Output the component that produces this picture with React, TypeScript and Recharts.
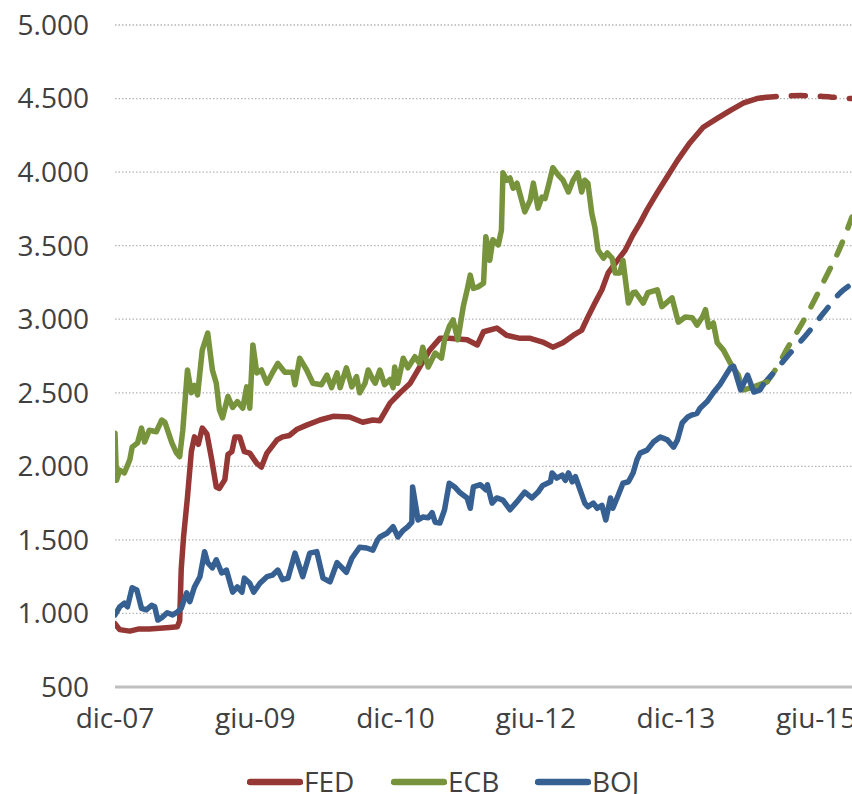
import { LineChart, Line, XAxis, YAxis, CartesianGrid } from "recharts";

// months counted from dic-07
const X_TICKS = [0, 18, 36, 54, 72, 90];
const X_LABELS = ["dic-07", "giu-09", "dic-10", "giu-12", "dic-13", "giu-15"];
const Y_TICKS = [500, 1000, 1500, 2000, 2500, 3000, 3500, 4000, 4500, 5000];

const FED: [number, number][] = [
  [0, 930], [0.6, 890], [1.9, 880], [3.1, 895], [4.4, 895], [5.7, 900], [7.0, 905],
  [8.0, 910], [8.3, 950], [8.5, 1300], [8.8, 1520], [9.3, 1790], [9.8, 2100],
  [10.2, 2200], [10.7, 2150], [11.2, 2260], [11.8, 2220], [12.4, 2050], [13.0, 1860],
  [13.4, 1850], [14.1, 1910], [14.5, 2080], [15.0, 2100], [15.4, 2200], [16.0, 2200],
  [16.6, 2100], [17.3, 2090], [18.2, 2020], [18.8, 1995], [19.5, 2090], [20.8, 2180],
  [21.5, 2200], [22.4, 2210], [23.3, 2250], [24.6, 2280], [26.3, 2315], [28.0, 2340],
  [30.1, 2335], [31.8, 2300], [33.1, 2315], [34.0, 2310], [35.3, 2430], [36.6, 2500],
  [37.9, 2565], [39.1, 2675], [40.4, 2790], [41.7, 2870], [42.9, 2870], [45.2, 2860],
  [46.5, 2825], [47.3, 2915], [49.0, 2940], [50.3, 2890], [52.0, 2870], [53.3, 2870],
  [54.9, 2845], [56.2, 2810], [57.5, 2840], [58.8, 2890], [59.9, 2925], [60.7, 3015],
  [61.6, 3110], [62.5, 3200], [63.3, 3315], [64.5, 3400], [65.5, 3470], [66.5, 3575],
  [67.4, 3655], [68.3, 3745], [69.6, 3860], [70.9, 3970], [72.2, 4080], [73.8, 4200],
  [75.5, 4305], [77.3, 4365], [79.0, 4420], [80.7, 4470], [82.4, 4500], [83.1, 4505],
];
const FED_PROJ: [number, number][] = [
  [83.1, 4505], [85.4, 4515], [88.0, 4520], [90.6, 4515], [93.1, 4505], [94.6, 4500],
];

const ECB: [number, number][] = [
  [0, 2225], [0.2, 1905], [0.6, 1975], [1.2, 1955], [1.9, 2045], [2.2, 2130], [2.9, 2160],
  [3.4, 2260], [3.8, 2165], [4.4, 2245], [5.3, 2235], [6.0, 2315], [6.4, 2300], [7.3, 2160],
  [7.9, 2090], [8.3, 2065], [8.7, 2245], [9.3, 2655], [9.8, 2500], [10.2, 2550], [10.6, 2485],
  [11.2, 2790], [11.9, 2905], [12.5, 2655], [13.0, 2565], [13.4, 2385], [13.8, 2330],
  [14.5, 2475], [15.1, 2400], [15.7, 2440], [16.4, 2395], [16.9, 2540], [17.3, 2395],
  [17.7, 2825], [18.2, 2635], [18.8, 2655], [19.5, 2565], [20.2, 2635], [20.9, 2700],
  [21.8, 2640], [22.8, 2640], [23.1, 2555], [23.7, 2735], [24.6, 2655], [25.4, 2565],
  [26.5, 2555], [27.2, 2620], [27.8, 2535], [28.5, 2635], [28.9, 2535], [29.7, 2670],
  [30.4, 2540], [31.0, 2610], [31.4, 2500], [32.1, 2565], [32.5, 2655], [33.1, 2590],
  [33.4, 2565], [34.0, 2655], [34.6, 2555], [35.3, 2590], [35.7, 2535], [35.9, 2675],
  [36.3, 2565], [37.0, 2735], [37.6, 2670], [38.5, 2745], [39.1, 2700], [39.5, 2810],
  [40.2, 2675], [41.1, 2770], [41.9, 2735], [42.3, 2860], [42.9, 2950], [43.4, 2995],
  [44.0, 2860], [44.7, 3085], [45.2, 3200], [45.6, 3300], [46.0, 3210], [46.6, 3220],
  [47.3, 3245], [47.6, 3560], [47.9, 3490], [48.1, 3400], [48.5, 3540], [49.2, 3505],
  [49.6, 3605], [49.8, 3995], [50.3, 3945], [50.7, 3960], [51.1, 3890], [51.6, 3925],
  [52.6, 3730], [53.3, 3810], [53.7, 3925], [54.3, 3755], [54.8, 3830], [55.2, 3820],
  [55.6, 3900], [56.2, 4030], [56.9, 3980], [57.5, 3945], [58.2, 3865], [58.8, 3945],
  [59.4, 3995], [59.9, 3865], [60.3, 3945], [60.7, 3925], [61.2, 3720], [61.6, 3625],
  [62.0, 3470], [62.7, 3415], [63.2, 3450], [63.8, 3415], [64.2, 3315], [64.8, 3315],
  [65.2, 3400], [65.9, 3110], [66.5, 3180], [66.8, 3185], [67.8, 3110], [68.4, 3180],
  [69.6, 3200], [70.2, 3085], [71.5, 3145], [72.3, 2980], [73.2, 3015], [74.1, 3010],
  [74.7, 2960], [75.4, 3015], [75.8, 3065], [76.2, 2945], [76.8, 2975], [77.3, 2840],
  [78.1, 2790], [79.0, 2700], [80.0, 2620], [80.3, 2565], [80.7, 2520], [82.0, 2540],
  [83.7, 2575],
];
const ECB_PROJ: [number, number][] = [
  [83.7, 2575], [84.5, 2635], [86.5, 2820], [88.9, 3040], [91.0, 3260], [93.1, 3490], [94.6, 3695],
];

const BOJ: [number, number][] = [
  [0, 990], [0.6, 1045], [1.2, 1070], [1.6, 1045], [2.2, 1175], [2.8, 1160], [3.4, 1035],
  [4.0, 1025], [4.7, 1055], [5.1, 1045], [5.5, 955], [6.1, 975], [6.7, 1005], [7.4, 990],
  [8.0, 1010], [8.5, 1035], [9.2, 1140], [9.6, 1080], [10.2, 1180], [10.9, 1250],
  [11.5, 1420], [11.9, 1345], [12.5, 1310], [13.0, 1365], [13.7, 1275], [14.3, 1295],
  [15.1, 1145], [15.7, 1180], [16.3, 1145], [16.6, 1240], [17.3, 1205], [17.8, 1145],
  [18.6, 1205], [19.5, 1250], [20.2, 1260], [20.9, 1295], [21.5, 1230], [22.2, 1240],
  [23.1, 1410], [24.1, 1250], [25.0, 1410], [25.9, 1420], [26.7, 1240], [27.6, 1215],
  [28.5, 1345], [29.7, 1280], [30.4, 1375], [31.4, 1450], [32.3, 1445], [33.1, 1430],
  [33.7, 1500], [34.0, 1520], [34.9, 1545], [35.7, 1590], [36.3, 1520], [37.0, 1565],
  [37.6, 1590], [38.1, 1620], [38.2, 1860], [38.9, 1635], [39.5, 1655], [40.2, 1650],
  [40.7, 1685], [41.1, 1620], [41.7, 1615], [42.3, 1705], [42.9, 1885], [43.6, 1860],
  [44.3, 1820], [45.2, 1785], [45.6, 1715], [46.0, 1860], [46.9, 1875], [47.6, 1840],
  [47.8, 1875], [48.4, 1750], [49.0, 1785], [49.8, 1770], [50.7, 1705], [51.6, 1760],
  [52.6, 1825], [53.5, 1785], [54.3, 1825], [54.9, 1870], [55.9, 1895], [56.1, 1955],
  [56.7, 1920], [57.4, 1940], [57.8, 1905], [58.2, 1955], [58.7, 1895], [59.1, 1930],
  [59.7, 1840], [60.3, 1750], [60.7, 1725], [61.4, 1750], [61.9, 1715], [62.5, 1735],
  [63.0, 1635], [63.6, 1785], [63.9, 1715], [64.6, 1805], [65.2, 1885], [65.9, 1895],
  [66.5, 1955], [67.0, 2045], [67.4, 2090], [68.3, 2110], [69.1, 2165], [70.0, 2200],
  [70.9, 2180], [71.7, 2130], [72.2, 2180], [72.8, 2295], [73.5, 2335], [74.1, 2350],
  [74.7, 2360], [75.1, 2395], [76.0, 2440], [76.8, 2500], [77.7, 2560], [78.4, 2620],
  [79.0, 2670], [79.4, 2680], [80.3, 2520], [81.2, 2620], [82.0, 2505], [82.8, 2520],
  [83.2, 2555],
];
const BOJ_PROJ: [number, number][] = [
  [83.2, 2555], [84.5, 2635], [86.5, 2760], [88.9, 2905], [91.0, 3045], [93.1, 3180], [94.6, 3240],
];

const COLORS = { FED: "#953735", ECB: "#77933C", BOJ: "#376092" };
const FONT = "'Open Sans', sans-serif";
const TEXT = "#404040";

const toRows = (pts: [number, number][]) => pts.map(([t, v]) => ({ t, v }));
const fmt = (v: number) => String(v).replace(/\B(?=(\d{3})+(?!\d))/g, ".");

const series = [
  { name: "FED", data: FED, proj: FED_PROJ },
  { name: "ECB", data: ECB, proj: ECB_PROJ },
  { name: "BOJ", data: BOJ, proj: BOJ_PROJ },
] as const;

function LegendRow() {
  return (
    <div
      style={{
        position: "absolute",
        left: 247,
        top: 765,
        display: "flex",
        fontFamily: FONT,
        fontSize: 28,
        lineHeight: "32px",
        color: TEXT,
      }}
    >
      {series.map((s) => (
        <div key={s.name} style={{ width: 144, display: "flex", alignItems: "flex-start" }}>
          <svg width={56} height={32}>
            <line x1={3} x2={53} y1={17} y2={17} stroke={COLORS[s.name]} strokeWidth={6.5} strokeLinecap="round" />
          </svg>
          <span style={{ marginLeft: 1 }}>{s.name}</span>
        </div>
      ))}
    </div>
  );
}

export default function App() {
  return (
    <div style={{ position: "absolute", left: 0, top: 0, width: 852, height: 794, overflow: "hidden", background: "#fff" }}>
      <LineChart width={852} height={794} margin={{ top: 25, right: 0, left: 15, bottom: 47 }}>
        <CartesianGrid
          vertical={false}
          horizontalValues={Y_TICKS.slice(1)}
          stroke="#b4b4b4"
          strokeWidth={1.3}
          strokeDasharray="1.5 2"
        />
        <XAxis
          dataKey="t"
          type="number"
          domain={[0, 94.6]}
          allowDataOverflow
          ticks={X_TICKS}
          tickFormatter={(v: number) => X_LABELS[X_TICKS.indexOf(v)] ?? ""}
          axisLine={{ stroke: "#bfbfbf", strokeWidth: 3 }}
          tickLine={false}
          tickSize={0}
          tickMargin={21}
          height={60}
          interval={0}
          tick={{ fill: TEXT, fontSize: 28, fontFamily: FONT }}
        />
        <YAxis
          type="number"
          domain={[500, 5000]}
          ticks={Y_TICKS}
          tickFormatter={fmt}
          axisLine={false}
          tickLine={false}
          tickSize={0}
          tickMargin={26}
          width={100}
          interval={0}
          tick={{ fill: TEXT, fontSize: 28, fontFamily: FONT }}
        />
        {series.map((s) => (
          <Line
            key={s.name + "-proj"}
            data={toRows(s.proj)}
            dataKey="v"
            type="monotone"
            stroke={COLORS[s.name]}
            strokeWidth={5.5}
            strokeDasharray="14 15"
            strokeLinecap="round"
            dot={false}
            activeDot={false}
            isAnimationActive={false}
          />
        ))}
        {series.map((s) => (
          <Line
            key={s.name}
            name={s.name}
            data={toRows(s.data)}
            dataKey="v"
            type="linear"
            stroke={COLORS[s.name]}
            strokeWidth={5.5}
            strokeLinejoin="round"
            strokeLinecap="round"
            dot={false}
            activeDot={false}
            isAnimationActive={false}
          />
        ))}
      </LineChart>
      <LegendRow />
    </div>
  );
}
